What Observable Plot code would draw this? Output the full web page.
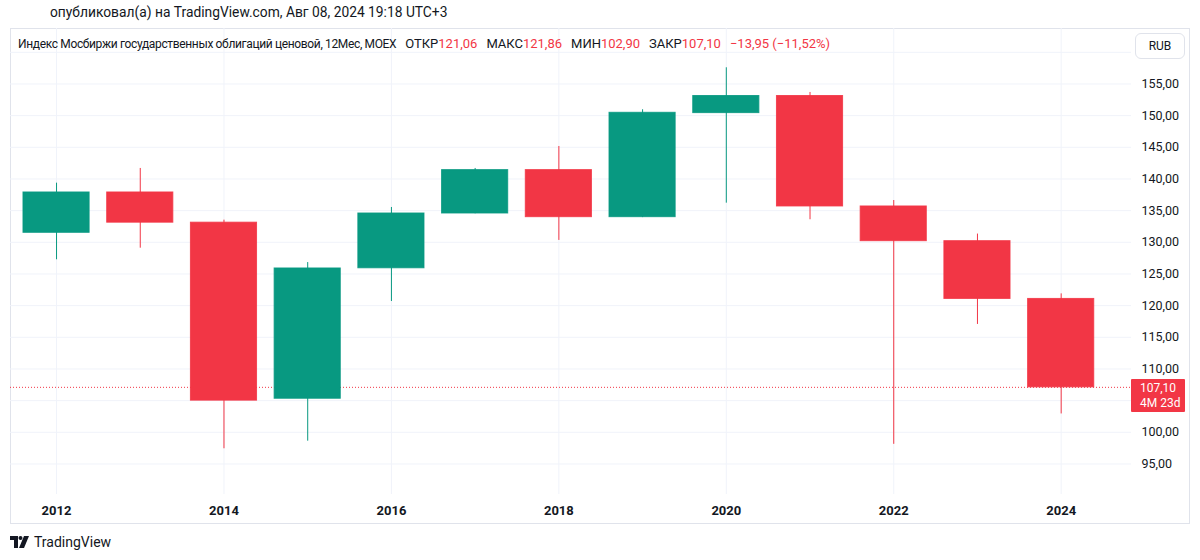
<!DOCTYPE html>
<html>
<head>
<meta charset="utf-8">
<script src="https://cdn.jsdelivr.net/npm/d3@7"></script>
<script src="https://cdn.jsdelivr.net/npm/@observablehq/plot@0.6"></script>
<style>
  html, body { margin: 0; padding: 0; background: #ffffff; }
  body { width: 1200px; height: 560px; position: relative; overflow: hidden;
         font-family: Roboto, "Liberation Sans", sans-serif; color: #131722; }
  .abs { position: absolute; }
  #published { top: 4px; left: 50px; font-size: 13.8px; line-height: 16px; white-space: nowrap; }
  #frame { left: 10px; top: 28px; width: 1180px; height: 496px; border: 1px solid #e0e3eb; box-sizing: border-box; }
  #chart { left: 0; top: 24px; }
  #legend { left: 18px; top: 36px; font-size: 13px; line-height: 16px; white-space: nowrap; }
  #legend .name { font-size: 12px; letter-spacing: -0.35px; }
  #legend .r { color: #F23645; }
  #legend .g { margin-left: 9px; }
  #rub { left: 1135px; top: 33px; width: 50px; height: 26px; border: 1px solid #e0e3eb; border-radius: 6px;
         box-sizing: border-box; font-size: 12px; line-height: 24px; text-align: center; background: #fff; }
  #price { left: 1131px; width: 54px; height: 33px; background: #F23645; color: #fff; font-size: 12px;
           line-height: 15px; padding: 2px 0 0 9px; box-sizing: border-box; border-radius: 1px; white-space: nowrap; overflow: hidden; }
  #logo { left: 10px; top: 534px; font-size: 14px; line-height: 16px; display: flex; align-items: center; }
</style>
</head>
<body>
<div id="published" class="abs">опубликовал(а) на TradingView.com, Авг 08, 2024 19:18 UTC+3</div>
<div id="frame" class="abs"></div>
<div id="chart" class="abs"></div>
<div id="legend" class="abs"></div>
<div id="rub" class="abs">RUB</div>
<div id="price" class="abs"></div>
<div id="logo" class="abs">
  <svg width="20" height="12" viewBox="0 0 20 12" style="margin-right:4px">
    <path d="M0 0 H8 V12 H4 V4 H0 Z" fill="#131722"/>
    <circle cx="10.5" cy="2" r="2" fill="#131722"/>
    <path d="M14 0 H19 L14 12 H9 Z" fill="#131722"/>
  </svg>
  <span>TradingView</span>
</div>
<script>
// ---- data ----
const years = [2012, 2013, 2014, 2015, 2016, 2017, 2018, 2019, 2020, 2021, 2022, 2023, 2024];
const openVals  = [131.50, 137.87, 133.10, 105.30, 125.90, 134.55, 141.40, 133.97, 150.40, 153.10, 135.66, 130.18, 121.06];
const highVals  = [139.34, 141.66, 133.50, 126.80, 135.50, 141.66, 145.13, 150.93, 157.56, 153.66, 136.60, 131.30, 121.86];
const lowVals   = [127.24, 129.07,  97.40,  98.60, 120.65, 134.50, 130.30, 133.90, 136.18, 133.56,  98.10, 117.03, 102.90];
const closeVals = [137.87, 133.10, 105.00, 125.87, 134.55, 141.40, 133.97, 150.45, 153.10, 135.66, 130.18, 121.06, 107.10];
const xTickYears = [2012, 2014, 2016, 2018, 2020, 2022, 2024];
const yTickLabels = [95, 100, 110, 115, 120, 125, 130, 135, 140, 145, 150, 155];
const yGrid = [95, 100, 105, 110, 115, 120, 125, 130, 135, 140, 145, 150, 155, 160];
const seriesName = "Индекс Мосбиржи государственных облигаций ценовой, 12Мес, MOEX";
const legendItems = [["ОТКР", "121,06"], ["МАКС", "121,86"], ["МИН", "102,90"], ["ЗАКР", "107,10"]];
const changeText = "−13,95 (−11,52%)";
const countdown = "4M 23d";

const UP = "#089981", DOWN = "#F23645";
const candles = years.map((y, i) => ({
  year: y, open: openVals[i], high: highVals[i], low: lowVals[i], close: closeVals[i],
  color: closeVals[i] >= openVals[i] ? UP : DOWN
}));
const last = candles[candles.length - 1];
const fmt = v => v.toFixed(2).replace(".", ",");
const halfBody = 0.395;

const chart = Plot.plot({
  width: 1200, height: 506,
  marginLeft: 10, marginRight: 69, marginTop: 4, marginBottom: 36,
  style: { fontFamily: "Roboto, 'Liberation Sans', sans-serif", fontSize: "13px", color: "#131722", background: "transparent" },
  x: { domain: [2011.45, 2024.84], axis: null, label: null },
  y: { domain: [90.18, 163.76], axis: null, label: null },
  color: { type: "identity" },
  marks: [
    Plot.ruleY(yGrid, { stroke: "#f0f3fa", strokeWidth: 1 }),
    Plot.ruleX(xTickYears, { stroke: "#f0f3fa", strokeWidth: 1 }),
    Plot.axisX(xTickYears, { label: null, tickSize: 0, tickPadding: 11, tickFormat: d => String(d), fontSize: 13, fontWeight: "bold", fill: "#131722" }),
    Plot.axisY(yTickLabels, { label: null, anchor: "right", tickSize: 0, tickPadding: 10, tickFormat: fmt, fontSize: 12.5, fill: "#131722" }),
    Plot.ruleY([last.close], { stroke: DOWN, strokeDasharray: "1,2", strokeWidth: 1 }),
    Plot.ruleX(candles, { x: "year", y1: "low", y2: "high", stroke: "color", strokeWidth: 1 }),
    Plot.rectY(candles, { x1: d => d.year - halfBody, x2: d => d.year + halfBody, y1: "open", y2: "close", fill: "color", stroke: "color", strokeWidth: 1, strokeOpacity: 0.85 })
  ]
});
document.getElementById("chart").appendChild(chart);

// legend
const lg = document.getElementById("legend");
let html = `<span class="name">${seriesName}</span>`;
legendItems.forEach(([k, v]) => {
  html += `<span class="g">${k}</span><span class="r">${v}</span>`;
});
html += `<span class="g r">${changeText}</span>`;
lg.innerHTML = html;

// last price label
const py = chart.scale("y").apply(last.close) + 24;
const pl = document.getElementById("price");
pl.style.top = (py - 8) + "px";
pl.innerHTML = `<div>${fmt(last.close)}</div><div>${countdown}</div>`;
</script>
</body>
</html>
